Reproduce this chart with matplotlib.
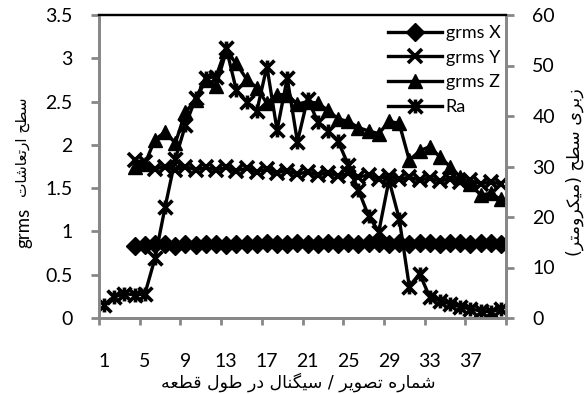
import numpy as np
import matplotlib
matplotlib.use("Agg")
import matplotlib.pyplot as plt
from matplotlib.path import Path

# Data
categories = list(range(1, 41))
grms_cats = list(range(4, 41))
grms_x = [0.83, 0.84, 0.85, 0.85, 0.83, 0.85, 0.84, 0.86, 0.85, 0.84,
          0.86, 0.85, 0.86, 0.87, 0.86, 0.85, 0.87, 0.86, 0.86, 0.87,
          0.86, 0.87, 0.86, 0.87, 0.87, 0.86, 0.87, 0.86, 0.87, 0.87,
          0.86, 0.87, 0.87, 0.86, 0.87, 0.87, 0.86]
grms_y = [1.82, 1.80, 1.72, 1.75, 1.71, 1.75, 1.71, 1.74, 1.71, 1.74,
          1.70, 1.73, 1.69, 1.72, 1.68, 1.70, 1.66, 1.69, 1.65, 1.68,
          1.64, 1.67, 1.63, 1.65, 1.61, 1.64, 1.60, 1.63, 1.59, 1.62,
          1.58, 1.61, 1.57, 1.59, 1.55, 1.57, 1.55]
grms_z = [1.74, 1.78, 2.06, 2.15, 2.02, 2.38, 2.52, 2.75, 2.68, 3.08,
          2.94, 2.76, 2.66, 2.48, 2.58, 2.58, 2.47, 2.50, 2.48, 2.40,
          2.30, 2.27, 2.20, 2.16, 2.13, 2.27, 2.25, 1.82, 1.93, 1.98,
          1.86, 1.75, 1.63, 1.55, 1.42, 1.44, 1.37]
ra = [2.6, 4.2, 4.8, 4.6, 4.7, 11.8, 22.0, 31.5, 38.2, 43.5,
      47.5, 47.8, 53.5, 45.1, 42.8, 40.9, 49.8, 37.2, 47.5, 34.9,
      43.4, 38.9, 37.0, 35.0, 30.3, 25.3, 20.2, 17.1, 27.3, 19.7,
      6.2, 8.8, 4.2, 3.4, 2.8, 2.2, 1.8, 1.4, 1.2, 1.8]
tick_labels = [str(c) for c in range(1, 38, 4)]
legend_names = ["grms X", "grms Y", "grms Z", "Ra"]

x_title = "شماره تصویر / سیگنال در طول قطعه"
left_title_ar = "سطح ارتعاشات"
right_title_ar = "زبری سطح"
right_unit_ar = "میکرومتر"

# Arabic presentation forms: isolated, final, initial, medial
FORMS = {
    "ا": ("\uFE8D", "\uFE8E", None, None),
    "ب": ("\uFE8F", "\uFE90", "\uFE91", "\uFE92"),
    "ت": ("\uFE95", "\uFE96", "\uFE97", "\uFE98"),
    "ح": ("\uFEA1", "\uFEA2", "\uFEA3", "\uFEA4"),
    "د": ("\uFEA9", "\uFEAA", None, None),
    "ر": ("\uFEAD", "\uFEAE", None, None),
    "ز": ("\uFEAF", "\uFEB0", None, None),
    "س": ("\uFEB1", "\uFEB2", "\uFEB3", "\uFEB4"),
    "ش": ("\uFEB5", "\uFEB6", "\uFEB7", "\uFEB8"),
    "ص": ("\uFEB9", "\uFEBA", "\uFEBB", "\uFEBC"),
    "ط": ("\uFEC1", "\uFEC2", "\uFEC3", "\uFEC4"),
    "ع": ("\uFEC9", "\uFECA", "\uFECB", "\uFECC"),
    "ق": ("\uFED5", "\uFED6", "\uFED7", "\uFED8"),
    "ل": ("\uFEDD", "\uFEDE", "\uFEDF", "\uFEE0"),
    "م": ("\uFEE1", "\uFEE2", "\uFEE3", "\uFEE4"),
    "ن": ("\uFEE5", "\uFEE6", "\uFEE7", "\uFEE8"),
    "ه": ("\uFEE9", "\uFEEA", "\uFEEB", "\uFEEC"),
    "و": ("\uFEED", "\uFEEE", None, None),
    "ی": ("\uFBFC", "\uFBFD", "\uFBFE", "\uFBFF"),
    "ک": ("\uFB8E", "\uFB8F", "\uFB90", "\uFB91"),
    "گ": ("\uFB92", "\uFB93", "\uFB94", "\uFB95"),
}


def dual(ch):
    return ch in FORMS and FORMS[ch][2] is not None


def rtl(text):
    """Shape Persian letters and return them in visual (left to right) order."""
    out = []
    for i, ch in enumerate(text):
        if ch not in FORMS:
            out.append(ch)
            continue
        prev_j = i > 0 and dual(text[i - 1])
        next_j = dual(ch) and i + 1 < len(text) and text[i + 1] in FORMS
        if prev_j and next_j:
            out.append(FORMS[ch][3])
        elif prev_j:
            out.append(FORMS[ch][1])
        elif next_j:
            out.append(FORMS[ch][2])
        else:
            out.append(FORMS[ch][0])
    return "".join(out)[::-1]


def main():
    plt.rcParams["font.family"] = ["Lato", "DejaVu Sans"]
    gray = "#878787"

    fig = plt.figure(figsize=(5.88, 3.94), dpi=100)
    ax = fig.add_axes([99 / 588, 76 / 394, 407 / 588, 303 / 394])
    ax2 = ax.twinx()

    lw = 2.4
    ms = 10
    star = Path([(-1, -1), (1, 1), (-1, 1), (1, -1), (0, -1), (0, 1)],
                [Path.MOVETO, Path.LINETO, Path.MOVETO, Path.LINETO,
                 Path.MOVETO, Path.LINETO])

    h1, = ax.plot(grms_cats, grms_x, color="black", lw=lw, marker="D",
                  ms=9.5, mfc="black", mec="black")
    h2, = ax.plot(grms_cats, grms_y, color="black", lw=lw, marker="x",
                  ms=ms, mew=2.6, mec="black")
    h3, = ax.plot(grms_cats, grms_z, color="black", lw=lw, marker="^",
                  ms=ms, mfc="black", mec="black")
    h4, = ax2.plot(categories, ra, color="black", lw=lw, marker=star,
                   ms=ms, mew=2.6, mec="black")

    ax.set_xlim(0.5, 40.5)
    ax.set_ylim(0, 3.5)
    ax2.set_ylim(0, 60)
    ax.set_yticks(np.arange(0, 3.51, 0.5))
    ax.set_yticklabels(["0", "0.5", "1", "1.5", "2", "2.5", "3", "3.5"])
    ax2.set_yticks(range(0, 61, 10))

    ax.set_xticks(range(1, 38, 4))
    ax.set_xticklabels(tick_labels)
    ax.set_xticks(np.arange(0.5, 40.6, 4), minor=True)
    ax.tick_params(axis="x", which="major", length=0, pad=25, labelsize=14)
    ax.tick_params(axis="x", which="minor", length=5, width=2, color=gray,
                   direction="out")
    ax.tick_params(axis="y", length=6, width=2, color=gray, pad=13,
                   labelsize=14)
    ax2.tick_params(axis="y", length=6, width=2, color=gray, pad=13,
                    labelsize=14)

    for a in (ax, ax2):
        for side in ("left", "right", "bottom"):
            a.spines[side].set_color(gray)
            a.spines[side].set_linewidth(2)
        a.spines["top"].set_color("black")
        a.spines["top"].set_linewidth(1.6)

    # axis titles
    fig.text(298 / 588, 1 - 382 / 394, rtl(x_title), ha="center",
             va="center", fontsize=12.5, family=["DejaVu Sans"])
    fig.text(24 / 588, 1 - 228 / 394, "grms", rotation=90, ha="center",
             va="center", fontsize=13.5)
    fig.text(23 / 588, 1 - 147 / 394, rtl(left_title_ar), rotation=90,
             ha="center", va="center", fontsize=11, family=["DejaVu Sans"])
    fig.text(575 / 588, 1 - 172 / 394,
             "(" + rtl(right_unit_ar) + ") " + rtl(right_title_ar),
             rotation=90, ha="center", va="center", fontsize=12.5,
             family=["DejaVu Sans"])

    handles = [h1, h2, h3, h4]
    ax2.legend(handles, legend_names, loc="upper left",
               bbox_to_anchor=(388 / 588, 1 - 25 / 394),
               bbox_transform=fig.transFigure, frameon=False,
               fontsize=13, handlelength=3.0, handletextpad=0.2,
               labelspacing=0.48, borderpad=0, borderaxespad=0)

    fig.savefig("out.png", dpi=100)


if __name__ == "__main__":
    main()
